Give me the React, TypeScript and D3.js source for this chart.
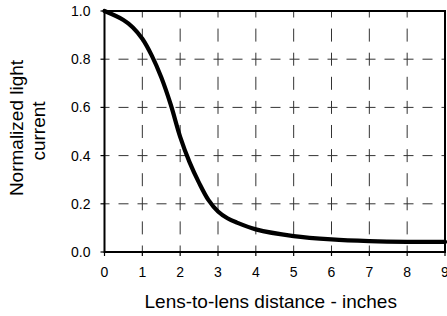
import React from "react";
import * as d3 from "d3";

const distance = [0, 0.5, 0.75, 1, 1.25, 1.5, 1.75, 2, 2.25, 2.5, 2.75, 3, 3.25, 3.5, 4, 5, 6, 7, 8, 9];
const current = [1.0, 0.963, 0.932, 0.885, 0.815, 0.725, 0.612, 0.478, 0.372, 0.287, 0.215, 0.168, 0.14, 0.122, 0.094, 0.066, 0.052, 0.045, 0.042, 0.042];
const xTicks = [0, 1, 2, 3, 4, 5, 6, 7, 8, 9];
const yTicks = [0, 0.2, 0.4, 0.6, 0.8, 1.0];
const xTitle = "Lens-to-lens distance - inches";
const yTitleLines = ["Normalized light", "current"];

const W = 447, H = 316;
const left = 104.5, right = 445, top = 11, bottom = 252;
const font = "'Liberation Sans', Arial, Helvetica, sans-serif";

export default function App() {
  const x = d3.scaleLinear().domain([0, 9]).range([left, right]);
  const y = d3.scaleLinear().domain([0, 1]).range([bottom, top]);
  const line = d3
    .line<number>()
    .x((_, i) => x(distance[i]))
    .y((d) => y(d))
    .curve(d3.curveCatmullRom.alpha(0.5));

  return (
    <svg width={W} height={H} style={{ position: "absolute", left: 0, top: 0, background: "#fff" }}>
      {/* grid */}
      {yTicks.filter((t) => t > 0 && t < 1).map((t) => (
        <line key={"gy" + t} x1={left} x2={right} y1={y(t)} y2={y(t)} stroke="#333" strokeWidth={1}
          strokeDasharray="10,9" strokeDashoffset={5} />
      ))}
      {xTicks.filter((t) => t > 0 && t < 9).map((t) => (
        <line key={"gx" + t} x1={x(t)} x2={x(t)} y1={bottom} y2={top} stroke="#333" strokeWidth={1}
          strokeDasharray="13,11.1" strokeDashoffset={6.5} />
      ))}
      {/* ticks */}
      {yTicks.map((t) => (
        <line key={"ty" + t} x1={left - 4} x2={left} y1={y(t)} y2={y(t)} stroke="#000" strokeWidth={1.2} />
      ))}
      {xTicks.map((t) => (
        <line key={"tx" + t} x1={x(t)} x2={x(t)} y1={bottom} y2={bottom + 4} stroke="#000" strokeWidth={1.2} />
      ))}
      {/* frame */}
      <rect x={left} y={top} width={right - left} height={bottom - top} fill="none" stroke="#000" strokeWidth={2} />
      {/* curve */}
      <path d={line(current) || ""} fill="none" stroke="#000" strokeWidth={4.2} strokeLinejoin="round" strokeLinecap="round" />
      {/* tick labels */}
      {yTicks.map((t) => (
        <text key={"ly" + t} x={90.5} y={y(t) + 5} textAnchor="end" fontFamily={font} fontSize={14} fill="#000">
          {t.toFixed(1)}
        </text>
      ))}
      {xTicks.map((t) => (
        <text key={"lx" + t} x={x(t)} y={277} textAnchor="middle" fontFamily={font} fontSize={14} fill="#000">
          {t}
        </text>
      ))}
      {/* titles */}
      <text x={(left + right) / 2 - 4} y={308} textAnchor="middle" fontFamily={font} fontSize={19} fill="#000">
        {xTitle}
      </text>
      <text transform={`translate(23,128) rotate(-90)`} textAnchor="middle" fontFamily={font} fontSize={19} fill="#000">
        {yTitleLines[0]}
      </text>
      <text transform={`translate(45,131) rotate(-90)`} textAnchor="middle" fontFamily={font} fontSize={19} fill="#000">
        {yTitleLines[1]}
      </text>
    </svg>
  );
}
